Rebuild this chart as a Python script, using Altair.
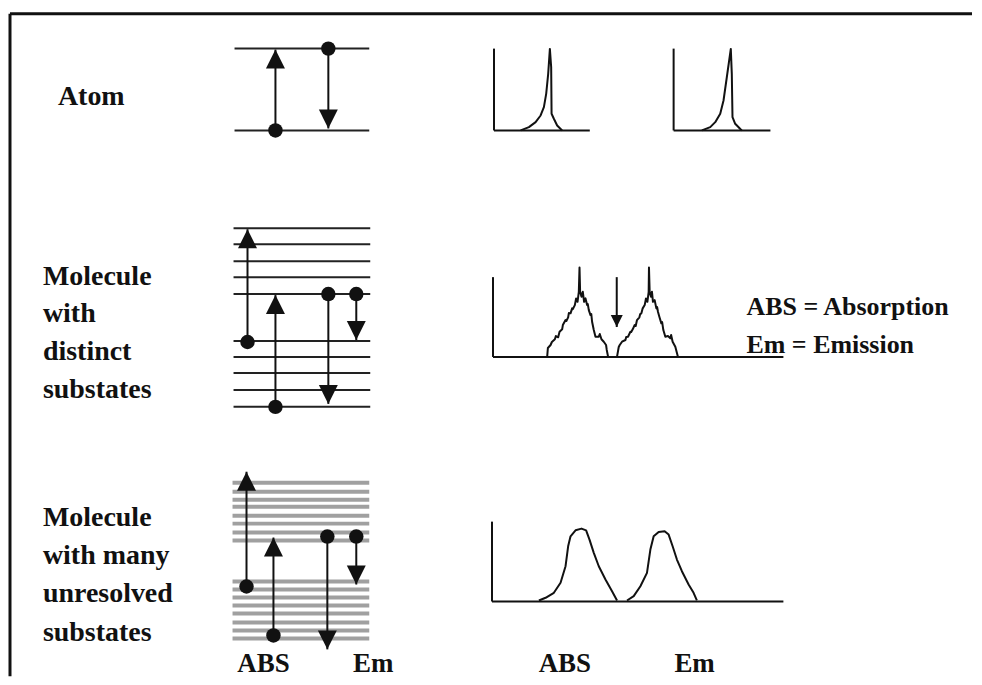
import altair as alt
import pandas as pd

# ---- diagram coordinate frame (diagram units, y grows downward) ----
X_DOMAIN = [8, 974]
Y_DOMAIN = [8, 677]

# outer frame
frame_left_x = 10
frame_top_y = 13
frame_right_x = 974
frame_bottom_y = 677

# energy levels
atom_level_y = [48, 130]
atom_level_x = [235, 370]
distinct_level_y = [228, 244, 261, 277, 294, 341, 357, 373, 390, 407]
distinct_level_x = [234, 371]
unresolved_level_y = [483, 492, 500, 507, 516, 524, 533, 541,
                      582, 590, 598, 606, 614, 623, 631, 639]
unresolved_level_x = [233, 370]

# transitions: position, start level (dot), end level (arrow tip), kind
trans_x = [276, 329, 248, 276, 329, 357, 247, 274, 328, 357]
trans_from = [130, 48, 342, 407, 294, 294, 587, 636, 537, 537]
trans_to = [49, 128, 229, 295, 404, 340, 472, 538, 650, 585]
trans_kind = ["abs", "em", "abs", "abs", "em", "em", "abs", "abs", "em", "em"]

# small relaxation arrow in the middle spectrum
relax_x = [618]
relax_from = [277]
relax_to = [327]

# spectrum axes: y-axis x, top, baseline, x-axis end
spec_axis_x = [495, 675, 494, 493]
spec_axis_top = [48, 48, 277, 522]
spec_axis_base = [130, 130, 357, 602]
spec_axis_end = [591, 772, 785, 785]

# spectral curves
atom_abs_x = [521.7, 530, 536.7, 541.7, 545, 547.3, 549.3, 551, 552.3, 552.7, 555, 558.3, 563.3]
atom_abs_y = [130, 126.7, 121.7, 115, 106.7, 93.3, 73.3, 48.3, 66.7, 113.3, 118.3, 125, 130]
atom_em_x = [703.3, 711.7, 716.7, 721.7, 725, 728.3, 732.3, 733.3, 734, 736.7, 743.3]
atom_em_y = [130, 126.7, 121.7, 113.3, 100, 76.7, 48.3, 73.3, 116.7, 123.3, 130]

mol_abs_x = [548.3, 549, 551.7, 553, 556, 557, 559.3, 560.7, 563.3, 564, 566.7, 567.5, 569.3,
             570, 571.7, 573.3, 574, 576, 577.3, 578.7, 580, 580.7, 581.3, 582.7, 584, 585.3,
             586.7, 588.3, 589, 590, 591.7, 592.5, 593.3, 595, 596.7, 600, 601, 602.7, 605,
             607.3, 608, 609.3]
mol_abs_y = [356.7, 348, 345, 342, 339.3, 336, 337.3, 331.7, 329.3, 325, 320, 321, 317.3,
             313, 313.3, 308.3, 309, 305, 298.3, 301.7, 291.7, 267.3, 291.7, 296.7, 291.7, 301.7,
             298.3, 305, 304, 310, 315, 314, 321.7, 330, 336.7, 336.7, 334, 339.3, 341.7,
             345, 350, 356.7]
mol_em_x = [618.3, 620, 621, 623.3, 626.7, 627.5, 629.3, 631.7, 632.5, 634, 636, 637, 638.3,
            640.7, 641.5, 642.7, 644, 646, 647.3, 648.7, 650, 650.3, 651, 652.3, 653.3, 654.3,
            656, 657.7, 658.5, 659.3, 660.7, 662.7, 663.5, 664.7, 666.7, 669.3, 671.7, 672.5,
            674, 676.7, 679.3]
mol_em_y = [356.7, 347, 345, 341.7, 340, 337, 336.7, 331.7, 332, 329.3, 325, 326, 320,
            317.3, 314, 313.3, 308.3, 305, 298.3, 301.7, 291.7, 267.3, 291.7, 296.7, 291.7,
            301.7, 300, 308.3, 307, 311.7, 316.7, 323.3, 322, 330, 336.7, 336, 338.3, 335,
            341.7, 346.7, 356.7]

band_abs_x = [540, 546.7, 555, 561.7, 566.7, 569.3, 571.7, 576.7, 582.7, 587.3, 590.7, 595, 600,
              606.7, 613.3, 618.3]
band_abs_y = [601, 598.3, 593.3, 583.3, 566.7, 546.7, 536.7, 530.7, 529, 530.7, 540, 553.3,
              566.7, 580, 591.7, 601]
band_em_x = [628.3, 635, 641.7, 648.3, 651.7, 655, 660, 666, 670, 674, 678.3, 683.3, 690, 695,
             698.3]
band_em_y = [601, 596.7, 586.7, 573.3, 550, 536.7, 532.3, 531.7, 535, 546.7, 560, 571.7, 585,
             593.3, 601]

# row labels (left aligned)
label_text = ["Atom", "Molecule", "with", "distinct", "substates",
              "Molecule", "with many", "unresolved", "substates"]
label_x = [58, 43, 43, 43, 43, 43, 43, 43, 43]
label_y = [105, 285, 322, 360, 398, 526, 564, 603, 642]

# key (left aligned)
key_text = ["ABS = Absorption", "Em = Emission"]
key_x = [748, 748]
key_y = [315, 353]

# column labels (centered)
col_text = ["ABS", "Em", "ABS", "Em"]
col_x = [264, 374, 566, 696]
col_y = [673, 673, 673, 673]

# ---------------------------------------------------------------
xs = alt.Scale(domain=X_DOMAIN, nice=False, zero=False)
ys = alt.Scale(domain=Y_DOMAIN, reverse=True, nice=False, zero=False)
INK = "#111111"
FONT = "'Liberation Serif', 'Times New Roman', 'DejaVu Serif', serif"


def X(f="x"):
    return alt.X(f"{f}:Q", scale=xs, axis=None)


def Y(f="y"):
    return alt.Y(f"{f}:Q", scale=ys, axis=None)


# frame
frame_df = pd.DataFrame({
    "x": [frame_left_x, frame_left_x], "x2": [frame_right_x, frame_left_x],
    "y": [frame_top_y, frame_top_y], "y2": [frame_top_y, frame_bottom_y]})
frame = alt.Chart(frame_df).mark_rule(color=INK, strokeWidth=3).encode(
    x=X(), x2="x2:Q", y=Y(), y2="y2:Q")

# levels
lv_rows = []
for y in atom_level_y:
    lv_rows.append({"x": atom_level_x[0], "x2": atom_level_x[1], "y": y})
for y in distinct_level_y:
    lv_rows.append({"x": distinct_level_x[0], "x2": distinct_level_x[1], "y": y})
levels = alt.Chart(pd.DataFrame(lv_rows)).mark_rule(color="#222222", strokeWidth=2).encode(
    x=X(), x2="x2:Q", y=Y())

st_rows = [{"x": unresolved_level_x[0], "x2": unresolved_level_x[1], "y": y}
           for y in unresolved_level_y]
stripes = alt.Chart(pd.DataFrame(st_rows)).mark_rule(color="#a0a0a0", strokeWidth=4).encode(
    x=X(), x2="x2:Q", y=Y())

# transitions
tr_df = pd.DataFrame({"x": trans_x, "y": trans_from, "y2": trans_to, "kind": trans_kind})
shafts = alt.Chart(tr_df).mark_rule(color=INK, strokeWidth=2).encode(
    x=X(), y=Y(), y2="y2:Q")
dots = alt.Chart(tr_df).mark_point(filled=True, shape="circle", size=210, opacity=1,
                                   color=INK).encode(x=X(), y=Y())
UP = "M0,0L-1,2L1,2Z"
DOWN = "M0,0L-1,-2L1,-2Z"
heads = alt.Chart(tr_df).mark_point(filled=True, size=361, opacity=1, color=INK).encode(
    x=X(), y=Y("y2"),
    shape=alt.Shape("kind:N", scale=alt.Scale(domain=["abs", "em"], range=[UP, DOWN]),
                    legend=None))

rl_df = pd.DataFrame({"x": relax_x, "y": relax_from, "y2": relax_to})
relax_shaft = alt.Chart(rl_df).mark_rule(color=INK, strokeWidth=2).encode(
    x=X(), y=Y(), y2="y2:Q")
relax_head = alt.Chart(rl_df).mark_point(filled=True, size=144, opacity=1, color=INK,
                                         shape=DOWN).encode(x=X(), y=Y("y2"))

# spectrum axes
ax_rows = []
for ax, top, base, end in zip(spec_axis_x, spec_axis_top, spec_axis_base, spec_axis_end):
    ax_rows.append({"x": ax, "x2": ax, "y": top, "y2": base})
    ax_rows.append({"x": ax, "x2": end, "y": base, "y2": base})
axes = alt.Chart(pd.DataFrame(ax_rows)).mark_rule(color=INK, strokeWidth=2).encode(
    x=X(), x2="x2:Q", y=Y(), y2="y2:Q")

# spectra curves
curves = {
    "atom_abs": (atom_abs_x, atom_abs_y),
    "atom_em": (atom_em_x, atom_em_y),
    "mol_abs": (mol_abs_x, mol_abs_y),
    "mol_em": (mol_em_x, mol_em_y),
    "band_abs": (band_abs_x, band_abs_y),
    "band_em": (band_em_x, band_em_y),
}
cv_rows = []
for name, (cx, cy) in curves.items():
    for i, (a, b) in enumerate(zip(cx, cy)):
        cv_rows.append({"curve": name, "i": i, "x": a, "y": b})
spectra = alt.Chart(pd.DataFrame(cv_rows)).mark_line(
    color=INK, strokeWidth=2, strokeJoin="round", interpolate="linear").encode(
    x=X(), y=Y(), detail="curve:N", order="i:Q")

# text
lab_df = pd.DataFrame({"x": label_x, "y": label_y, "t": label_text})
labels = alt.Chart(lab_df).mark_text(
    align="left", baseline="alphabetic", font=FONT, fontWeight="bold", fontSize=28,
    color=INK).encode(x=X(), y=Y(), text="t:N")

key_df = pd.DataFrame({"x": key_x, "y": key_y, "t": key_text})
key = alt.Chart(key_df).mark_text(
    align="left", baseline="alphabetic", font=FONT, fontWeight="bold", fontSize=26,
    color=INK).encode(x=X(), y=Y(), text="t:N")

col_df = pd.DataFrame({"x": col_x, "y": col_y, "t": col_text})
cols = alt.Chart(col_df).mark_text(
    align="center", baseline="alphabetic", font=FONT, fontWeight="bold", fontSize=27,
    color=INK).encode(x=X(), y=Y(), text="t:N")

chart = alt.layer(
    frame, stripes, levels, axes, spectra, shafts, relax_shaft,
    dots, heads, relax_head, labels, key, cols
).properties(
    width=966, height=669, padding=0, background="white"
).configure_view(stroke=None)

chart.save("out.html", embed_options={"renderer": "svg", "actions": False})
